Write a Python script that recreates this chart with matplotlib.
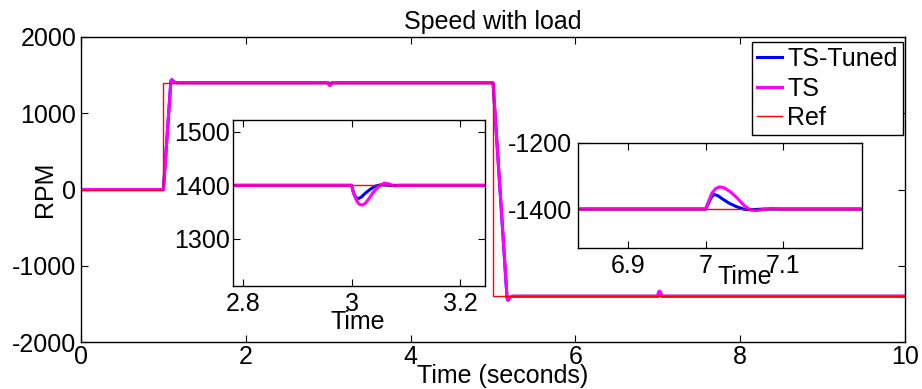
import matplotlib
matplotlib.use('Agg')
import matplotlib.pyplot as plt

plt.rcParams['font.family'] = ['Liberation Sans', 'DejaVu Sans']
plt.rcParams['font.size'] = 18
plt.rcParams['axes.unicode_minus'] = False

# reference speed (step profile)
ref_t = [0, 1.0, 1.0, 5.0, 5.0, 10]
ref_v = [0, 0, 1400, 1400, -1400, -1400]

# TS-Tuned controller response (key points)
tuned_t = [0, 1.0, 1.09, 1.10, 1.13, 1.16, 3.0, 3.004, 3.008, 3.012, 3.018, 3.025,
           3.035, 3.045, 3.055, 3.07, 4.99, 5.0, 5.17, 5.18, 5.21, 5.24, 7.0, 7.004,
           7.008, 7.011, 7.016, 7.022, 7.03, 7.04, 7.05, 7.06, 7.075, 10]
tuned_v = [0, 0, 1420, 1440, 1410, 1400, 1400, 1385, 1377, 1375, 1378, 1385,
           1393, 1399, 1401, 1400, 1400, 1400, -1420, -1450, -1410, -1400, -1400, -1380,
           -1362, -1356, -1360, -1370, -1382, -1393, -1401, -1402, -1400, -1400]

# TS controller response
ts_t = [0, 1.0, 1.09, 1.10, 1.13, 1.16, 3.0, 3.004, 3.009, 3.014, 3.019, 3.025,
        3.032, 3.04, 3.05, 3.06, 3.068, 3.078, 3.09, 3.1, 4.99, 5.0, 5.17, 5.18,
        5.21, 5.24, 7.0, 7.004, 7.008, 7.013, 7.018, 7.024, 7.032, 7.04, 7.05,
        7.058, 7.065, 7.075, 7.085, 7.1, 10]
ts_v = [0, 0, 1420, 1440, 1410, 1400, 1400, 1385, 1372, 1365, 1363, 1366,
        1375, 1387, 1398, 1404, 1403, 1399, 1400, 1400, 1400, 1400, -1420, -1450,
        -1410, -1400, -1400, -1375, -1352, -1338, -1333, -1336, -1348, -1365, -1390,
        -1403, -1405, -1401, -1398, -1400, -1400]


def draw(ax, lw):
    ax.plot(tuned_t, tuned_v, color='#0000ff', lw=lw, label='TS-Tuned')
    ax.plot(ts_t, ts_v, color='#ff00ff', lw=lw, label='TS')
    ax.plot(ref_t, ref_v, color='#ff0000', lw=1.0, label='Ref')


def style(ax, pad_x, pad_y):
    ax.tick_params(direction='in', top=True, right=True, length=5, width=0.8)
    ax.tick_params(axis='x', pad=pad_x)
    ax.tick_params(axis='y', pad=pad_y)
    for s in ax.spines.values():
        s.set_linewidth(1.0)


fig = plt.figure(figsize=(9.22, 3.89), dpi=100)

ax = fig.add_axes([0.0879, 0.1208, 0.8937, 0.7841])
draw(ax, 2.2)
ax.set_xlim(0, 10)
ax.set_ylim(-2000, 2000)
ax.set_xticks([0, 2, 4, 6, 8, 10])
ax.set_yticks([-2000, -1000, 0, 1000, 2000])
style(ax, 2, 3.5)
ax.set_title('Speed with load', fontsize=18, pad=6)
ax.set_xlabel('Time (seconds)')
ax.xaxis.label.set_va('center')
ax.xaxis.set_label_coords(0.512, -0.111)
ax.set_ylabel('RPM')
ax.yaxis.label.set_va('center')
ax.yaxis.set_label_coords(-0.0437, 0.5)
ax.legend(loc='upper right', bbox_to_anchor=(0.979, 0.892), bbox_transform=fig.transFigure,
          borderaxespad=0, handlelength=1.0, handletextpad=0.2, labelspacing=0.22,
          borderpad=0.2, fancybox=False, edgecolor='black', framealpha=1)

# inset around the load step at t = 3 s
ax1 = fig.add_axes([0.2527, 0.2648, 0.2733, 0.4267])
draw(ax1, 2.2)
ax1.set_xlim(2.7815, 3.246)
ax1.set_ylim(1212, 1522)
ax1.set_xticks([2.8, 3.0, 3.2])
ax1.set_xticklabels(['2.8', '3', '3.2'])
ax1.set_yticks([1300, 1400, 1500])
style(ax1, 4, 2)
ax1.set_xlabel('Time')
ax1.xaxis.label.set_va('center')
ax1.xaxis.set_label_coords(0.496, -0.217)

# inset around the load step at t = 7 s
ax2 = fig.add_axes([0.6269, 0.3625, 0.308, 0.27])
draw(ax2, 2.2)
ax2.set_xlim(6.835, 7.202)
ax2.set_ylim(-1518, -1200)
ax2.set_xticks([6.9, 7.0, 7.1])
ax2.set_xticklabels(['6.9', '7', '7.1'])
ax2.set_yticks([-1400, -1200])
style(ax2, 4, 4)
ax2.set_xlabel('Time')
ax2.xaxis.label.set_va('center')
ax2.xaxis.set_label_coords(0.588, -0.276)

fig.savefig('out.png', dpi=100)
